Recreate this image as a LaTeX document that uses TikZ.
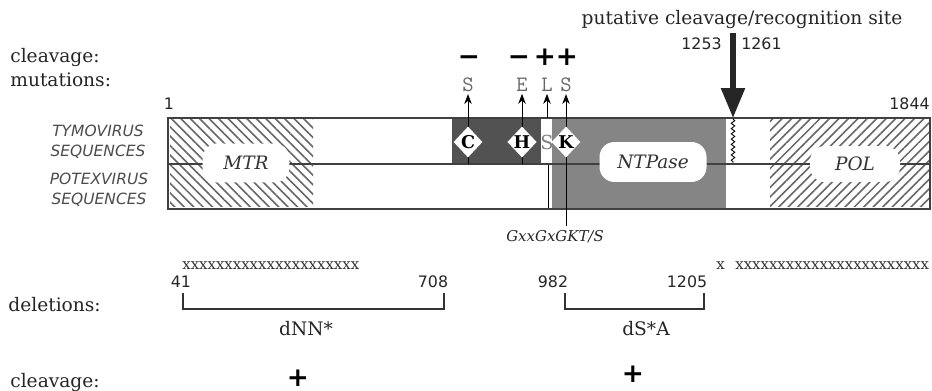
\documentclass[tikz,border=0pt]{standalone}
\usepackage{fontspec}
\usepackage{tikz}
\usetikzlibrary{positioning,arrows.meta,shapes.geometric,calc,patterns.meta,decorations.pathmorphing}
\setmainfont{DejaVu Serif}
\newfontfamily\numfont{DejaVu Sans}
\newfontfamily\resfont{Latin Modern Mono}
\definecolor{darkdom}{gray}{0.32}
\definecolor{ntpdom}{gray}{0.52}
\definecolor{hatchcol}{gray}{0.40}

\begin{document}
\begin{tikzpicture}[
    x=0.02cm, y=-0.02cm,
    lbl/.style={font=\fontsize{10.6}{12}\selectfont, text=black!85, inner sep=0pt},
    num/.style={font=\numfont\fontsize{9}{10}\selectfont, text=black!85, inner sep=0pt},
    seqname/.style={font=\numfont\itshape\fontsize{8.8}{11.3}\selectfont, text=black!70,
                    align=center, inner sep=0pt},
    restype/.style={font=\resfont\fontsize{12.5}{12}\selectfont, text=black!60, inner sep=0pt},
    sign/.style={font=\numfont\bfseries\fontsize{15}{15}\selectfont, inner sep=0pt},
    motifbox/.style={diamond, fill=white, minimum width=0.58cm, minimum height=0.62cm,
                  inner sep=0pt, font=\bfseries\fontsize{10}{10}\selectfont},
    protdom/.style={fill=white, rounded corners=0.3cm, inner sep=0pt,
                   font=\itshape\fontsize{10.5}{12}\selectfont, text=black!80},
    xrun/.style={font=\fontsize{8.5}{10}\selectfont, text=black!80, inner sep=0pt},
    mutarrow/.style={-{Stealth[length=2mm,width=1.5mm]}, line width=0.5pt},
    bracket/.style={line width=1.1pt, black!80},
]
\fill[white] (0,0) rectangle (932,391);
\useasboundingbox (0,0) rectangle (932,391);

% Genome bar -- fills
\fill[pattern={Lines[angle=-45,distance=3.8pt,line width=0.9pt]}, pattern color=hatchcol]
    (170,120) rectangle (313,207);
\fill[pattern={Lines[angle=45,distance=3.8pt,line width=0.9pt]}, pattern color=hatchcol]
    (770,120) rectangle (929,207);
\fill[darkdom] (452,118) rectangle (541,164);
\fill[ntpdom] (552,118) rectangle (726,209);
\draw[line width=0.5pt] (548,164) -- (548,209);
\draw[decorate, decoration={snake, amplitude=1pt, segment length=3pt}, line width=0.5pt]
    (733,119) -- (733,163);

% Outline and the tymo/potex split
\draw[line width=0.85pt, black!75] (168,118) rectangle (930,209);
\draw[line width=0.85pt, black!75] (168,164) -- (930,164);

% Domains
\node[protdom, minimum width=1.74cm, minimum height=0.78cm] (mtr) at (246,163) {MTR};
\node[protdom, minimum width=2.14cm, minimum height=0.8cm] (ntpase) at (653,162) {NTPase};
\node[protdom, minimum width=1.8cm, minimum height=0.72cm] (pol) at (855,164) {POL};

% Left labels
\node[lbl, anchor=base west] (cleavtop) at (10,63) {cleavage:};
\node[lbl, anchor=base west] (muttop) at (10,87) {mutations:};
\node[seqname] (tymo) at (98,142) {TYMOVIRUS\\SEQUENCES};
\node[seqname] (potex) at (99,190) {POTEXVIRUS\\SEQUENCES};
\node[num, anchor=base] (n1) at (169,110) {1};
\node[num, anchor=base east] (n1844) at (930,110) {1844};

% Mutations -- residues and cleavage result
\node[restype] (mS1) at (468,85) {S};
\node[restype] (mE) at (522,85) {E};
\node[restype] (mL) at (547,85) {L};
\node[restype] (mS2) at (566,85) {S};
\node[sign, anchor=base] (cS1) at (469,66) {−};
\node[sign, anchor=base] (cE) at (519,66) {−};
\node[sign, anchor=base] (cL) at (545,66) {+};
\node[sign, anchor=base] (cS2) at (567,66) {+};

\node[font=\itshape\fontsize{8.5}{10}\selectfont, text=black!85, inner sep=0pt, anchor=base] (motif) at (555,242) {GxxGxGKT/S};
\coordinate (cysfoot) at (468,164);
\coordinate (hisfoot) at (522,164);
\coordinate (leutop) at (547,118);
\draw[mutarrow, shorten >=1pt] (cysfoot) -- (mS1.south);
\draw[mutarrow, shorten >=1pt] (hisfoot) -- (mE.south);
\draw[mutarrow, shorten >=1pt] (leutop) -- (mL.south);
\draw[mutarrow, shorten >=1pt] ([yshift=0.1cm]mS2 |- motif.north) -- (mS2.south);

\node[motifbox] (cys) at (468,142) {C};
\node[motifbox] (his) at (522,142) {H};
\node[inner sep=0pt, text=black!50, font=\fontsize{11}{11}\selectfont] (ser) at (547,142) {S};
\node[motifbox] (lys) at (566,142) {K};

% Putative cleavage site
\node[lbl, anchor=base] (site) at (742,25) {putative cleavage/recognition site};
\node[num, anchor=base east] (n1253) at (722,50) {1253};
\node[num, anchor=base west] (n1261) at (741,50) {1261};
\coordinate (cuttop) at (733,33);
\coordinate (cutsite) at (733,118);
\draw[line width=0.11cm, black!85, -{Triangle[length=0.6cm,width=0.46cm]}] (cuttop) -- (cutsite);

% Deletions
\node[lbl, anchor=base west] (dellbl) at (8,312) {deletions:};
\node[xrun, anchor=base west] (delA) at (182,270) {xxxxxxxxxxxxxxxxxxxxx};
\node[xrun, anchor=base west] (delB1) at (716,270) {x};
\node[xrun, anchor=base west] (delB2) at (735,270) {xxxxxxxxxxxxxxxxxxxxxxx};
\node[num, anchor=base] (n41) at (181,288) {41};
\node[num, anchor=base] (n708) at (433,288) {708};
\node[num, anchor=base] (n982) at (553,288) {982};
\node[num, anchor=base] (n1205) at (687,288) {1205};
\coordinate (dnnL) at (183,293);
\coordinate (dnnR) at (444,293);
\coordinate (dsaL) at (565,293);
\coordinate (dsaR) at (704,293);
\draw[bracket] (dnnL) -- ++(0,16) -| (dnnR);
\draw[bracket] (dsaL) -- ++(0,16) -| (dsaR);
\node[lbl, anchor=base] (dnn) at (306,335) {dNN*};
\node[lbl, anchor=base] (dsa) at (646,335) {dS*A};

% Cleavage of deletion mutants
\node[lbl, anchor=base west] (cleavbot) at (10,387) {cleavage:};
\node[sign, anchor=base] (clvA) at (298,386) {+};
\node[sign, anchor=base] (clvB) at (633,382) {+};
\end{tikzpicture}
\end{document}
